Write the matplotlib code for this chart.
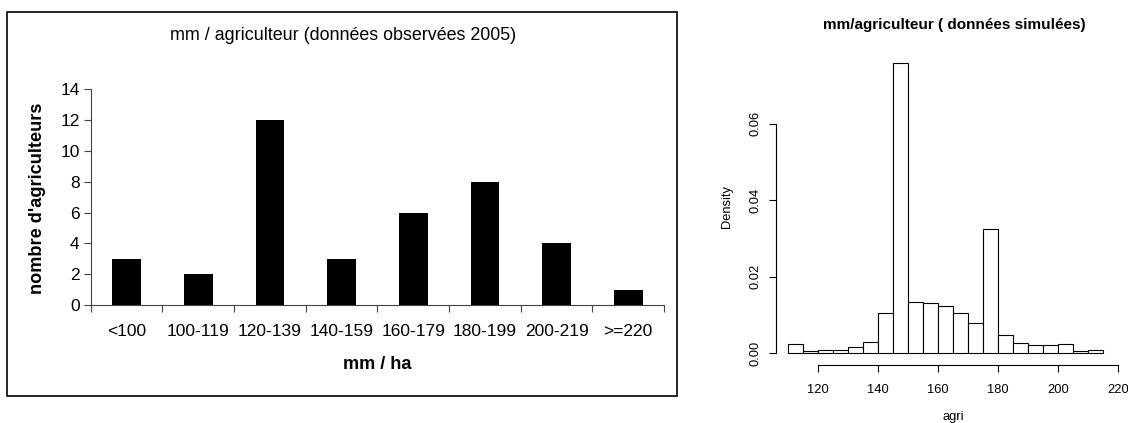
import matplotlib.pyplot as plt
from matplotlib.patches import Rectangle
import numpy as np

plt.rcParams['font.family'] = ['Liberation Sans', 'DejaVu Sans']

# données observées 2005
categories = ['<100', '100-119', '120-139', '140-159', '160-179', '180-199', '200-219', '>=220']
counts = [3, 2, 12, 3, 6, 8, 4, 1]

# données simulées (histogramme, densité)
bin_edges = [110, 115, 120, 125, 130, 135, 140, 145, 150, 155, 160, 165,
             170, 175, 180, 185, 190, 195, 200, 205, 210, 215]
density = [0.0024, 0.0005, 0.0008, 0.0008, 0.0016, 0.0030, 0.0105, 0.0757,
           0.0134, 0.0130, 0.0122, 0.0105, 0.0079, 0.0325, 0.0047, 0.0026,
           0.0021, 0.0021, 0.0024, 0.0005, 0.0009]

W, H = 1128, 423
fig = plt.figure(figsize=(W / 100, H / 100), dpi=100)


def fx(px):
    return px / W


def fy(py):
    return 1 - py / H


# ---- panneau gauche (style Excel) ----
fig.patches.append(Rectangle((fx(7), fy(396)), fx(677) - fx(7), fy(12) - fy(396),
                             transform=fig.transFigure, fill=False,
                             edgecolor='black', linewidth=1.2))

ax1 = fig.add_axes([fx(90.7), fy(305), fx(664) - fx(90.7), fy(89.3) - fy(305)])
x = np.arange(len(categories))
ax1.bar(x, counts, width=0.4, color='black')
ax1.set_xlim(-0.5, len(categories) - 0.5)
ax1.set_ylim(0, 14)
ax1.set_yticks(range(0, 15, 2))
ax1.set_xticks(np.arange(-0.5, len(categories)), labels=[''] * (len(categories) + 1))
ax1.set_xticks(x, labels=categories, minor=True)
ax1.tick_params(axis='x', which='minor', length=0, pad=14, labelsize=12.5)
ax1.tick_params(axis='x', which='major', length=5, width=0.8, color='#444444')
ax1.tick_params(axis='y', length=5, width=0.8, color='#444444', labelsize=12.5, pad=3)
for s in ['top', 'right']:
    ax1.spines[s].set_visible(False)
for s in ['left', 'bottom']:
    ax1.spines[s].set_color('#444444')
    ax1.spines[s].set_linewidth(0.8)

fig.text(fx(343), fy(35), 'mm / agriculteur (données observées 2005)',
         ha='center', va='center', fontsize=12.9)
fig.text(fx(38), fy(198), "nombre d'agriculteurs", rotation=90,
         ha='center', va='center', fontsize=13.1, fontweight='bold')
fig.text(fx(377), fy(364), 'mm / ha', ha='center', va='center',
         fontsize=13.1, fontweight='bold')

# ---- panneau droit (histogramme R) ----
ax2 = fig.add_axes([fx(775.7), fy(364.5), fx(1119.5) - fx(775.7), fy(52) - fy(364.5)])
ax2.hist(bin_edges[:-1], bins=bin_edges, weights=density,
         facecolor='white', edgecolor='black', linewidth=0.8)
ax2.set_xlim(105.8, 220.4)
ax2.set_ylim(-0.003, 0.0787)
ax2.set_xticks(range(120, 221, 20))
ax2.set_yticks([0.0, 0.02, 0.04, 0.06], labels=['0.00', '0.02', '0.04', '0.06'])
for lab in ax2.get_yticklabels():
    lab.set_rotation(90)
    lab.set_va('center')
ax2.spines['bottom'].set_bounds(120, 220)
ax2.spines['left'].set_bounds(0, 0.06)
for s in ['top', 'right']:
    ax2.spines[s].set_visible(False)
ax2.tick_params(length=5, width=0.8, labelsize=9.3)
ax2.tick_params(axis='x', pad=9)
ax2.tick_params(axis='y', pad=5)

fig.text(fx(954), fy(25), 'mm/agriculteur ( données simulées)',
         ha='center', va='center', fontsize=11, fontweight='bold')
fig.text(fx(727), fy(207), 'Density', rotation=90, ha='center', va='center', fontsize=9.3)
fig.text(fx(953), fy(417), 'agri', ha='center', va='center', fontsize=9.3)

fig.savefig('out.png', dpi=100)
